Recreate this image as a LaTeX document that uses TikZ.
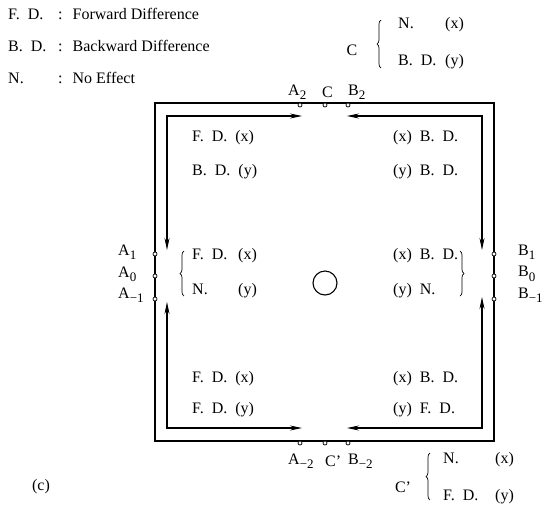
\documentclass[tikz,border=0pt]{standalone}
\usepackage{fontspec}
\setmainfont{Liberation Serif}
\usetikzlibrary{arrows.meta, positioning, decorations.pathreplacing}
\newcommand{\lowidx}[1]{\raisebox{-0.6ex}{\fontsize{13}{13}\selectfont #1}}
\newcommand{\keyline}[2]{\makebox[50pt][l]{#1}:\hspace{10pt}#2}
\newcommand{\twocol}[3]{\makebox[#1][l]{#2}#3}

\begin{document}
\begin{tikzpicture}[x=1pt,y=-1pt,font=\fontsize{16}{18}\selectfont,
	lbl/.style={inner sep=0pt,anchor=west},
	pin/.style={circle,draw,fill=white,inner sep=0pt,minimum size=4pt,line width=0.7pt},
	flow/.style={line width=1.1pt,{Stealth[length=12pt,width=5pt]}-{Stealth[length=12pt,width=5pt]}},
	brc/.style={decorate,decoration={brace,amplitude=4pt},line width=0.7pt}]
	\useasboundingbox (0,0) rectangle (543,507);
	% key
	\node[lbl] (keyfd) at (8,14) {\keyline{F.\ \ D.}{Forward Difference}};
	\node[lbl] (keybd) at (8,46) {\keyline{B.\ \ D.}{Backward Difference}};
	\node[lbl] (keyn) at (8,78) {\keyline{N.}{No Effect}};
	% frame
	\draw[line width=1.1pt] (155,103) rectangle (494,441);
	\coordinate (tl) at (167,116);
	\coordinate (tr) at (482,116);
	\coordinate (bl) at (167,428);
	\coordinate (br) at (482,428);
	\coordinate (tlh) at (302,116);
	\coordinate (tlv) at (167,250);
	\coordinate (trh) at (347,116);
	\coordinate (trv) at (482,250);
	\coordinate (blh) at (302,428);
	\coordinate (blv) at (167,302);
	\coordinate (brh) at (347,428);
	\coordinate (brv) at (482,297);
	\draw[flow] (tlv) -- (tl) -- (tlh);
	\draw[flow] (trv) -- (tr) -- (trh);
	\draw[flow] (blv) -- (bl) -- (blh);
	\draw[flow] (brv) -- (br) -- (brh);
	% gates on the frame
	\node[pin] (pa2) at (300,105) {};
	\node[pin] (pc) at (325,105) {};
	\node[pin] (pb2) at (348,105) {};
	\node[pin] (pam2) at (300,443) {};
	\node[pin] (pcc) at (325,443) {};
	\node[pin] (pbm2) at (348,443) {};
	\node[pin] (pa1) at (155,254) {};
	\node[pin] (pa0) at (155,276) {};
	\node[pin] (pam1) at (155,299) {};
	\node[pin] (pb1) at (494,254) {};
	\node[pin] (pb0) at (494,276) {};
	\node[pin] (pbm1) at (494,299) {};
	\node[lbl] (la2) at (288,92) {A\lowidx{2}};
	\node[lbl] (lc) at (322,92) {C};
	\node[lbl] (lb2) at (348,92) {B\lowidx{2}};
	\node[lbl] (lam2) at (288,461) {A\lowidx{−2}};
	\node[lbl] (lcc) at (325,461) {C'};
	\node[lbl] (lbm2) at (348,461) {B\lowidx{−2}};
	\node[lbl] (la1) at (118,252) {A\lowidx{1}};
	\node[lbl] (la0) at (118,274) {A\lowidx{0}};
	\node[lbl] (lam1) at (118,295) {A\lowidx{−1}};
	\node[lbl] (lb1) at (518,252) {B\lowidx{1}};
	\node[lbl] (lb0) at (518,274) {B\lowidx{0}};
	\node[lbl] (lbm1) at (518,295) {B\lowidx{−1}};
	% centre
	\draw[line width=1.1pt] (325,283) circle (12);
	% schemes
	\node[lbl] (tlx) at (192,138) {F.\ \ D.\ \ (x)};
	\node[lbl] (tly) at (192,172) {B.\ \ D.\ \ (y)};
	\node[lbl] (trx) at (393,138) {(x)\ \ B.\ \ D.};
	\node[lbl] (try) at (393,172) {(y)\ \ B.\ \ D.};
	\node[lbl] (mlx) at (192,256) {\twocol{46pt}{F.\ \ D.}{(x)}};
	\node[lbl] (mly) at (192,291) {\twocol{46pt}{N.}{(y)}};
	\node[lbl] (mrx) at (393,256) {(x)\ \ B.\ \ D.};
	\node[lbl] (mry) at (393,291) {(y)\ \ N.};
	\node[lbl] (blx) at (192,379) {F.\ \ D.\ \ (x)};
	\node[lbl] (bly) at (192,410) {F.\ \ D.\ \ (y)};
	\node[lbl] (brx) at (393,379) {(x)\ \ B.\ \ D.};
	\node[lbl] (bry) at (393,410) {(y)\ \ F.\ \ D.};
	\draw[brc] (184,296) -- (184,251);
	\draw[brc] (460,251) -- (460,296);
	% gate C
	\node (gc) at (352,50) {C};
	\draw[brc] (381,68) -- (381,20);
	\node[lbl] (gcx) at (398,25) {\twocol{47pt}{N.}{(x)}};
	\node[lbl] (gcy) at (398,62) {\twocol{47pt}{B.\ \ D.}{(y)}};
	% gate C'
	\node (gcc) at (403,487) {C'};
	\draw[brc] (430,500) -- (430,453);
	\node[lbl] (gccx) at (443,460) {\twocol{52pt}{N.}{(x)}};
	\node[lbl] (gccy) at (443,497) {\twocol{52pt}{F.\ \ D.}{(y)}};
	\node (tag) at (41,487) {(c)};
\end{tikzpicture}
\end{document}
